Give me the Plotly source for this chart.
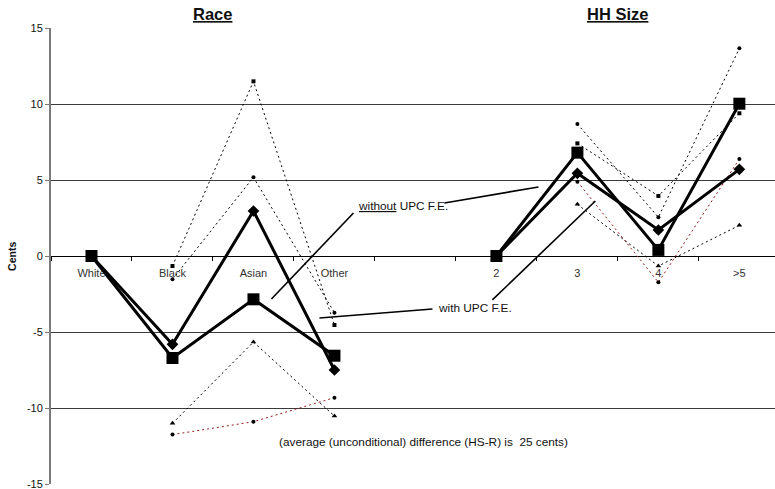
import plotly.graph_objects as go

# Categories along the shared horizontal axis (a blank slot separates the two panels)
race_cats = ["White", "Black", "Asian", "Other"]
hh_cats = ["2", "3", "4", ">5"]
gap_cat = [" "]
all_cats = race_cats + gap_cat + hh_cats

# Point estimates (cents)
race_without = [0, -6.71, -2.85, -6.56]
race_with = [0, -5.81, 2.96, -7.50]
hh_without = [0, 6.80, 0.40, 10.02]
hh_with = [0, 5.44, 1.71, 5.70]

# Confidence bounds (no bound for the reference category)
race_without_hi = [None, -1.53, 5.18, -3.73]
race_without_lo = [None, -11.75, -10.90, -9.32]
race_with_hi = [None, -0.66, 11.49, -4.54]
race_with_lo = [None, -11.01, -5.66, -10.53]
hh_without_hi = [None, 8.68, 2.55, 13.66]
hh_without_lo = [None, 4.89, -1.73, 6.38]
hh_with_hi = [None, 7.41, 3.95, 9.39]
hh_with_lo = [None, 3.40, -0.66, 2.02]

y_ticks = [-15, -10, -5, 0, 5, 10, 15]
y_min, y_max = -15, 15

FONT = "Arial, Liberation Sans, sans-serif"
DOT = "2px,3px"

fig = go.Figure()


def band(cats, vals, color, symbol, size):
    xs = [c for c, v in zip(cats, vals) if v is not None]
    ys = [v for v in vals if v is not None]
    fig.add_trace(go.Scatter(
        x=xs, y=ys, mode="lines+markers",
        line=dict(color=color, width=1, dash=DOT),
        marker=dict(symbol=symbol, size=size, color="black"),
        hoverinfo="skip", showlegend=False,
    ))


for cats, hi_w, lo_w, hi_o, lo_o in [
    (race_cats, race_without_hi, race_without_lo, race_with_hi, race_with_lo),
    (hh_cats, hh_without_hi, hh_without_lo, hh_with_hi, hh_with_lo),
]:
    band(cats, hi_w, "black", "circle", 4)
    band(cats, lo_w, "#9b1c1c", "circle", 4)
    band(cats, hi_o, "black", "square", 4)
    band(cats, lo_o, "black", "triangle-up", 5)

for cats, vals_without, vals_with in [
    (race_cats, race_without, race_with),
    (hh_cats, hh_without, hh_with),
]:
    fig.add_trace(go.Scatter(
        x=cats, y=vals_with, mode="lines+markers",
        line=dict(color="black", width=3),
        marker=dict(symbol="diamond", size=9, color="black"),
        showlegend=False,
    ))
    fig.add_trace(go.Scatter(
        x=cats, y=vals_without, mode="lines+markers",
        line=dict(color="black", width=3),
        marker=dict(symbol="square", size=12, color="black"),
        showlegend=False,
    ))

# Callout leader lines for the two series labels
callouts = [
    (3.235, 2.83, 2.222, -2.83),
    (4.358, 3.49, 5.519, 4.54),
    (4.21, -3.49, 2.815, -4.08),
    (4.95, -2.89, 6.222, 3.62),
]
for x0, y0, x1, y1 in callouts:
    fig.add_shape(type="line", xref="x", yref="y", x0=x0, y0=y0, x1=x1, y1=y1,
                  line=dict(color="black", width=1.6))

TXT = "#111111"
annotations = [
    dict(text="<b><u>Race</u></b>", x=1.5, xref="x", y=1.031, yref="paper",
         showarrow=False, font=dict(size=16.5, color=TXT),
         xanchor="center", yanchor="middle"),
    dict(text="<b><u>HH Size</u></b>", x=6.5, xref="x", y=1.031, yref="paper",
         showarrow=False, font=dict(size=16.5, color=TXT),
         xanchor="center", yanchor="middle"),
    dict(text="<u>without</u> UPC F.E.", x=3.26, xref="x", y=3.29, yref="y",
         showarrow=False, font=dict(size=11.8, color=TXT),
         xanchor="left", yanchor="middle"),
    dict(text="with UPC F.E.", x=4.26, xref="x", y=-3.42, yref="y",
         showarrow=False, font=dict(size=11.8, color=TXT),
         xanchor="left", yanchor="middle"),
    dict(text="(average (unconditional) difference (HS-R) is \u00a025 cents)",
         x=2.296, xref="x", y=-12.24, yref="y",
         showarrow=False, font=dict(size=11.8, color=TXT),
         xanchor="left", yanchor="middle"),
    dict(text="<b>Cents</b>", x=-0.054, xref="paper", y=0.5, yref="paper",
         showarrow=False, font=dict(size=10.5, color=TXT), textangle=-90,
         xanchor="center", yanchor="middle"),
]

fig.update_layout(
    width=775, height=489,
    margin=dict(l=51, r=0, t=28, b=5),
    paper_bgcolor="white", plot_bgcolor="white",
    font=dict(family=FONT, color=TXT, size=11),
    showlegend=False,
    annotations=annotations,
    xaxis=dict(
        type="category", categoryorder="array", categoryarray=all_cats,
        range=[-0.5, 8.44], anchor="free", position=0.5,
        showline=True, linecolor="black", linewidth=1,
        ticks="outside", tickson="boundaries", ticklen=4, tickcolor="black",
        showgrid=False, zeroline=False, layer="below traces",
        tickfont=dict(size=11, color="#333333"), ticklabelstandoff=7,
    ),
    # Frame lines along the top and bottom of the plot area
    xaxis2=dict(
        overlaying="x", anchor="y", side="bottom", mirror=True,
        range=[-0.5, 8.44], showline=True, linecolor="#7f7f7f", linewidth=1.5,
        showticklabels=False, ticks="", showgrid=False, zeroline=False,
    ),
    yaxis=dict(
        range=[y_min, y_max], tickvals=y_ticks,
        ticktext=[str(v) for v in y_ticks],
        showgrid=True, gridcolor="#3a3a3a", gridwidth=1, zeroline=False,
        showline=True, linecolor="#7a7a7a", linewidth=2,
        ticks="outside", ticklen=4, tickcolor="#7a7a7a",
        tickfont=dict(size=11, color=TXT), ticklabeloverflow="allow",
    ),
)

fig.write_html("out.html")
